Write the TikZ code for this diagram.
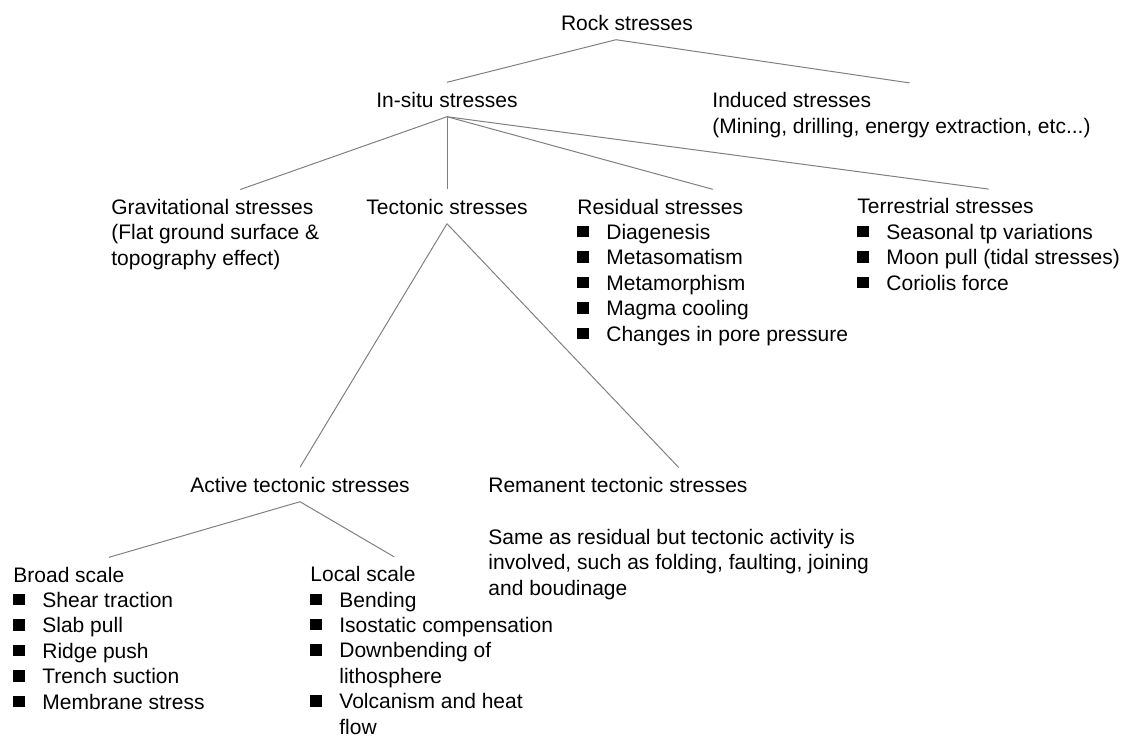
\documentclass[tikz,border=0pt]{standalone}
\usepackage{fontspec}
\setmainfont{Liberation Sans}
\usepackage{tikz}
\definecolor{linegray}{RGB}{128,128,128}
\newcommand{\sqb}{\makebox[14.5pt][l]{\rule[1pt]{5.75pt}{5.75pt}}}
\newcommand{\ind}{\hspace*{14.5pt}}
\tikzset{
    topic/.style={inner sep=0pt,outer ysep=4.75pt,align=left,font=\fontsize{10.5}{12.7}\selectfont},
    link/.style={draw=linegray,line width=0.5pt},
}

\begin{document}
\begin{tikzpicture}[x=0.5pt,y=-0.5pt]
\useasboundingbox (0,0) rectangle (1128,736);
% top levels (multi-line nodes sit on the baseline of their last line)
\node[topic,anchor=base] (rock) at (627,30) {Rock stresses};
\node[topic,anchor=base] (insitu) at (447,107) {In-situ stresses};
\node[topic,anchor=base west] (induced) at (712,133) {Induced stresses\\(Mining, drilling, energy extraction, etc...)};
% in-situ branches
\node[topic,anchor=base west] (grav) at (111,265) {Gravitational stresses\\(Flat ground surface \&\\topography effect)};
\node[topic,anchor=base] (tect) at (447,214) {Tectonic stresses};
\node[topic,anchor=base west] (resid) at (577,341) {Residual stresses\\\sqb Diagenesis\\\sqb Metasomatism\\\sqb Metamorphism\\\sqb Magma cooling\\\sqb Changes in pore pressure};
\node[topic,anchor=base west] (terr) at (857,290) {Terrestrial stresses\\\sqb Seasonal tp variations\\\sqb Moon pull (tidal stresses)\\\sqb Coriolis force};
% tectonic branches
\node[topic,anchor=base] (active) at (300,492) {Active tectonic stresses};
\node[topic,anchor=base west] (reman) at (488,595) {Remanent tectonic stresses\\[13.3pt]Same as residual but tectonic activity is\\involved, such as folding, faulting, joining\\and boudinage};
\node[topic,anchor=base west] (broad) at (13,709) {Broad scale\\\sqb Shear traction\\\sqb Slab pull\\\sqb Ridge push\\\sqb Trench suction\\\sqb Membrane stress};
\node[topic,anchor=base west] (local) at (310,734) {Local scale\\\sqb Bending\\\sqb Isostatic compensation\\\sqb Downbending of\\\ind lithosphere\\\sqb Volcanism and heat\\\ind flow};
% connectors
\draw[link] ([xshift=-5.5pt]rock.south) -- (insitu.north);
\draw[link] ([xshift=-5.5pt]rock.south) -- ([xshift=4pt]induced.north);
\draw[link] (insitu.south) -- ([xshift=12.5pt]grav.north);
\draw[link] (insitu.south) -- (tect.north);
\draw[link] (insitu.south) -- (resid.north);
\draw[link] (insitu.south) -- (terr.north);
\draw[link] (tect.south) -- (active.north);
\draw[link] (tect.south) -- (reman.north);
\draw[link] (active.south) -- (broad.north);
\draw[link] (active.south) -- ([xshift=-18.75pt]local.north);
\end{tikzpicture}
\end{document}
